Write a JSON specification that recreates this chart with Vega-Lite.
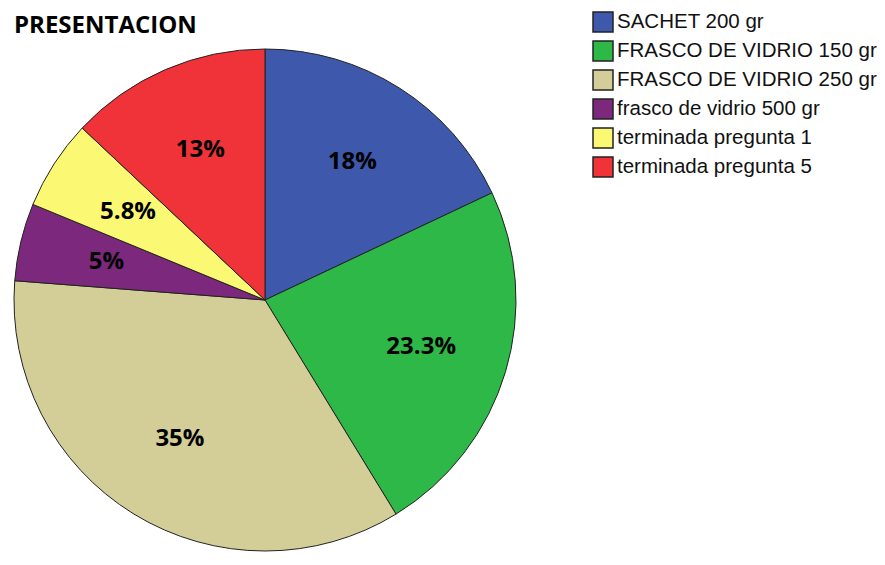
{
  "$schema": "https://vega.github.io/schema/vega-lite/v6.json",
  "width": 530,
  "height": 530,
  "autosize": {"type": "none"},
  "padding": {"left": 0, "top": 35, "right": 355, "bottom": 0},
  "background": "white",
  "title": {
    "text": "PRESENTACION",
    "anchor": "start",
    "frame": "group",
    "orient": "top",
    "offset": 0,
    "dx": 14,
    "dy": 46,
    "baseline": "alphabetic",
    "font": "Open Sans",
    "fontSize": 24,
    "fontWeight": "bold",
    "color": "black"
  },
  "data": {
    "values": [
      {"order": 1, "category": "SACHET 200 gr", "pct": 18, "label": "18%"},
      {"order": 2, "category": "FRASCO DE VIDRIO 150 gr", "pct": 23.3, "label": "23.3%"},
      {"order": 3, "category": "FRASCO DE VIDRIO 250 gr", "pct": 35, "label": "35%"},
      {"order": 4, "category": "frasco de vidrio 500 gr", "pct": 5, "label": "5%"},
      {"order": 5, "category": "terminada pregunta 1", "pct": 5.8, "label": "5.8%"},
      {"order": 6, "category": "terminada pregunta 5", "pct": 13, "label": "13%"}
    ]
  },
  "encoding": {
    "theta": {"field": "pct", "type": "quantitative", "stack": true},
    "order": {"field": "order", "type": "quantitative"}
  },
  "layer": [
    {
      "mark": {"type": "arc", "outerRadius": 251, "stroke": "#222222", "strokeWidth": 1},
      "encoding": {
        "color": {
          "field": "category",
          "type": "nominal",
          "sort": ["SACHET 200 gr", "FRASCO DE VIDRIO 150 gr", "FRASCO DE VIDRIO 250 gr", "frasco de vidrio 500 gr", "terminada pregunta 1", "terminada pregunta 5"],
          "scale": {
            "domain": ["SACHET 200 gr", "FRASCO DE VIDRIO 150 gr", "FRASCO DE VIDRIO 250 gr", "frasco de vidrio 500 gr", "terminada pregunta 1", "terminada pregunta 5"],
            "range": ["#3E58AC", "#2EB848", "#D3CE97", "#7C287D", "#FBF873", "#EF3338"]
          },
          "legend": {
            "title": null,
            "orient": "none",
            "legendX": 592,
            "legendY": -24,
            "symbolType": "square",
            "symbolSize": 400,
            "symbolStrokeColor": "#222222",
            "symbolStrokeWidth": 1.5,
            "symbolOpacity": 1,
            "labelFont": "Liberation Sans, Arial",
            "labelFontSize": 20.5,
            "labelColor": "#111111",
            "labelOffset": 3,
            "rowPadding": 3,
            "labelLimit": 400
          }
        }
      }
    },
    {
      "mark": {"type": "text", "radius": 163, "font": "Open Sans", "fontSize": 24, "fontWeight": "bold", "color": "black"},
      "encoding": {
        "text": {"field": "label", "type": "nominal"}
      }
    }
  ]
}
